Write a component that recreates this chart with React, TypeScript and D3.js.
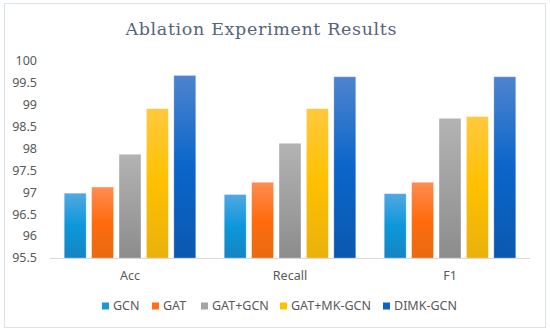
import React from 'react';
import * as d3 from 'd3';

const categories = ['Acc', 'Recall', 'F1'];
const models = ['GCN', 'GAT', 'GAT+GCN', 'GAT+MK-GCN', 'DIMK-GCN'];
const gcn = [96.98, 96.95, 96.97];
const gat = [97.12, 97.23, 97.23];
const gatGcn = [97.87, 98.12, 98.69];
const gatMkGcn = [98.91, 98.91, 98.73];
const dimkGcn = [99.67, 99.64, 99.64];
const yTicks = [95.5, 96, 96.5, 97, 97.5, 98, 98.5, 99, 99.5, 100];

const seriesValues = [gcn, gat, gatGcn, gatMkGcn, dimkGcn];
// top, middle, bottom shades per model
const shades = [
  ['#52a8e0', '#0c98dc', '#1584c2'],
  ['#ff8d52', '#ff6b0d', '#e96a12'],
  ['#b3b3b3', '#a0a0a0', '#8c8c8c'],
  ['#ffc93d', '#ffc000', '#e9b10c'],
  ['#4f83cf', '#0a66c9', '#0b58b0'],
];
const solid = ['#1a9ad6', '#ff6f1a', '#a5a5a5', '#ffc000', '#0e63c3'];

const App = () => {
  const width = 550;
  const height = 330;
  const left = 50, right = 530, top = 61, bottom = 258;

  const x0 = d3.scaleBand().domain(categories).range([left, right]).paddingInner(0).paddingOuter(0);
  const x1 = d3.scaleBand().domain(models).range([11.5, x0.bandwidth() - 11.5]).paddingInner(0.2).paddingOuter(0.1);
  const y = d3.scaleLinear().domain([95.5, 100]).range([bottom, top]);

  const legendX = [102, 152, 201, 280, 383];

  return (
    <svg width={width} height={height} style={{position: 'absolute', left: 0, top: 0}}
      fontFamily="'Noto Sans', 'Open Sans', sans-serif">
      <defs>
        {shades.map((s, i) => (
          <linearGradient key={i} id={'g' + i} x1="0" y1="0" x2="0" y2="1">
            <stop offset="0" stopColor={s[0]} />
            <stop offset="0.5" stopColor={s[1]} />
            <stop offset="1" stopColor={s[2]} />
          </linearGradient>
        ))}
      </defs>
      <rect x={0} y={0} width={width} height={height} fill="#fff" />
      <rect x={4.5} y={3.5} width={541} height={324} fill="none" stroke="#d9e1ec" />
      <text x={261} y={35} textAnchor="middle" fontFamily="'DejaVu Serif', serif" fontSize={17.5}
        fill="#55657a" textLength={271} lengthAdjust="spacing">Ablation Experiment Results</text>

      {yTicks.map(t => (
        <text key={t} x={37} y={y(t)} dy="0.35em" textAnchor="end" fontSize={12.5} fill="#595959">{t}</text>
      ))}

      {categories.map((c, ci) => (
        <g key={c} transform={`translate(${x0(c)},0)`}>
          {models.map((m, mi) => {
            const v = seriesValues[mi][ci];
            return (
              <rect key={m} x={x1(m)} y={y(v)} width={x1.bandwidth()} height={bottom - y(v)}
                fill={`url(#g${mi})`} stroke="#ffffff" strokeOpacity={0.35} strokeWidth={0.8} />
            );
          })}
          <text x={x0.bandwidth() / 2} y={276} dy="0.35em" textAnchor="middle" fontSize={12.5} fill="#595959">{c}</text>
        </g>
      ))}
      <line x1={left} x2={right} y1={bottom + 0.5} y2={bottom + 0.5} stroke="#d9d9d9" />

      {models.map((m, i) => (
        <g key={m} transform={`translate(${legendX[i]},306)`}>
          <rect x={0} y={-3.5} width={7} height={7} fill={solid[i]} />
          <text x={11} y={0} dy="0.35em" fontSize={12.5} fill="#595959">{m}</text>
        </g>
      ))}
    </svg>
  );
};

export default App;
